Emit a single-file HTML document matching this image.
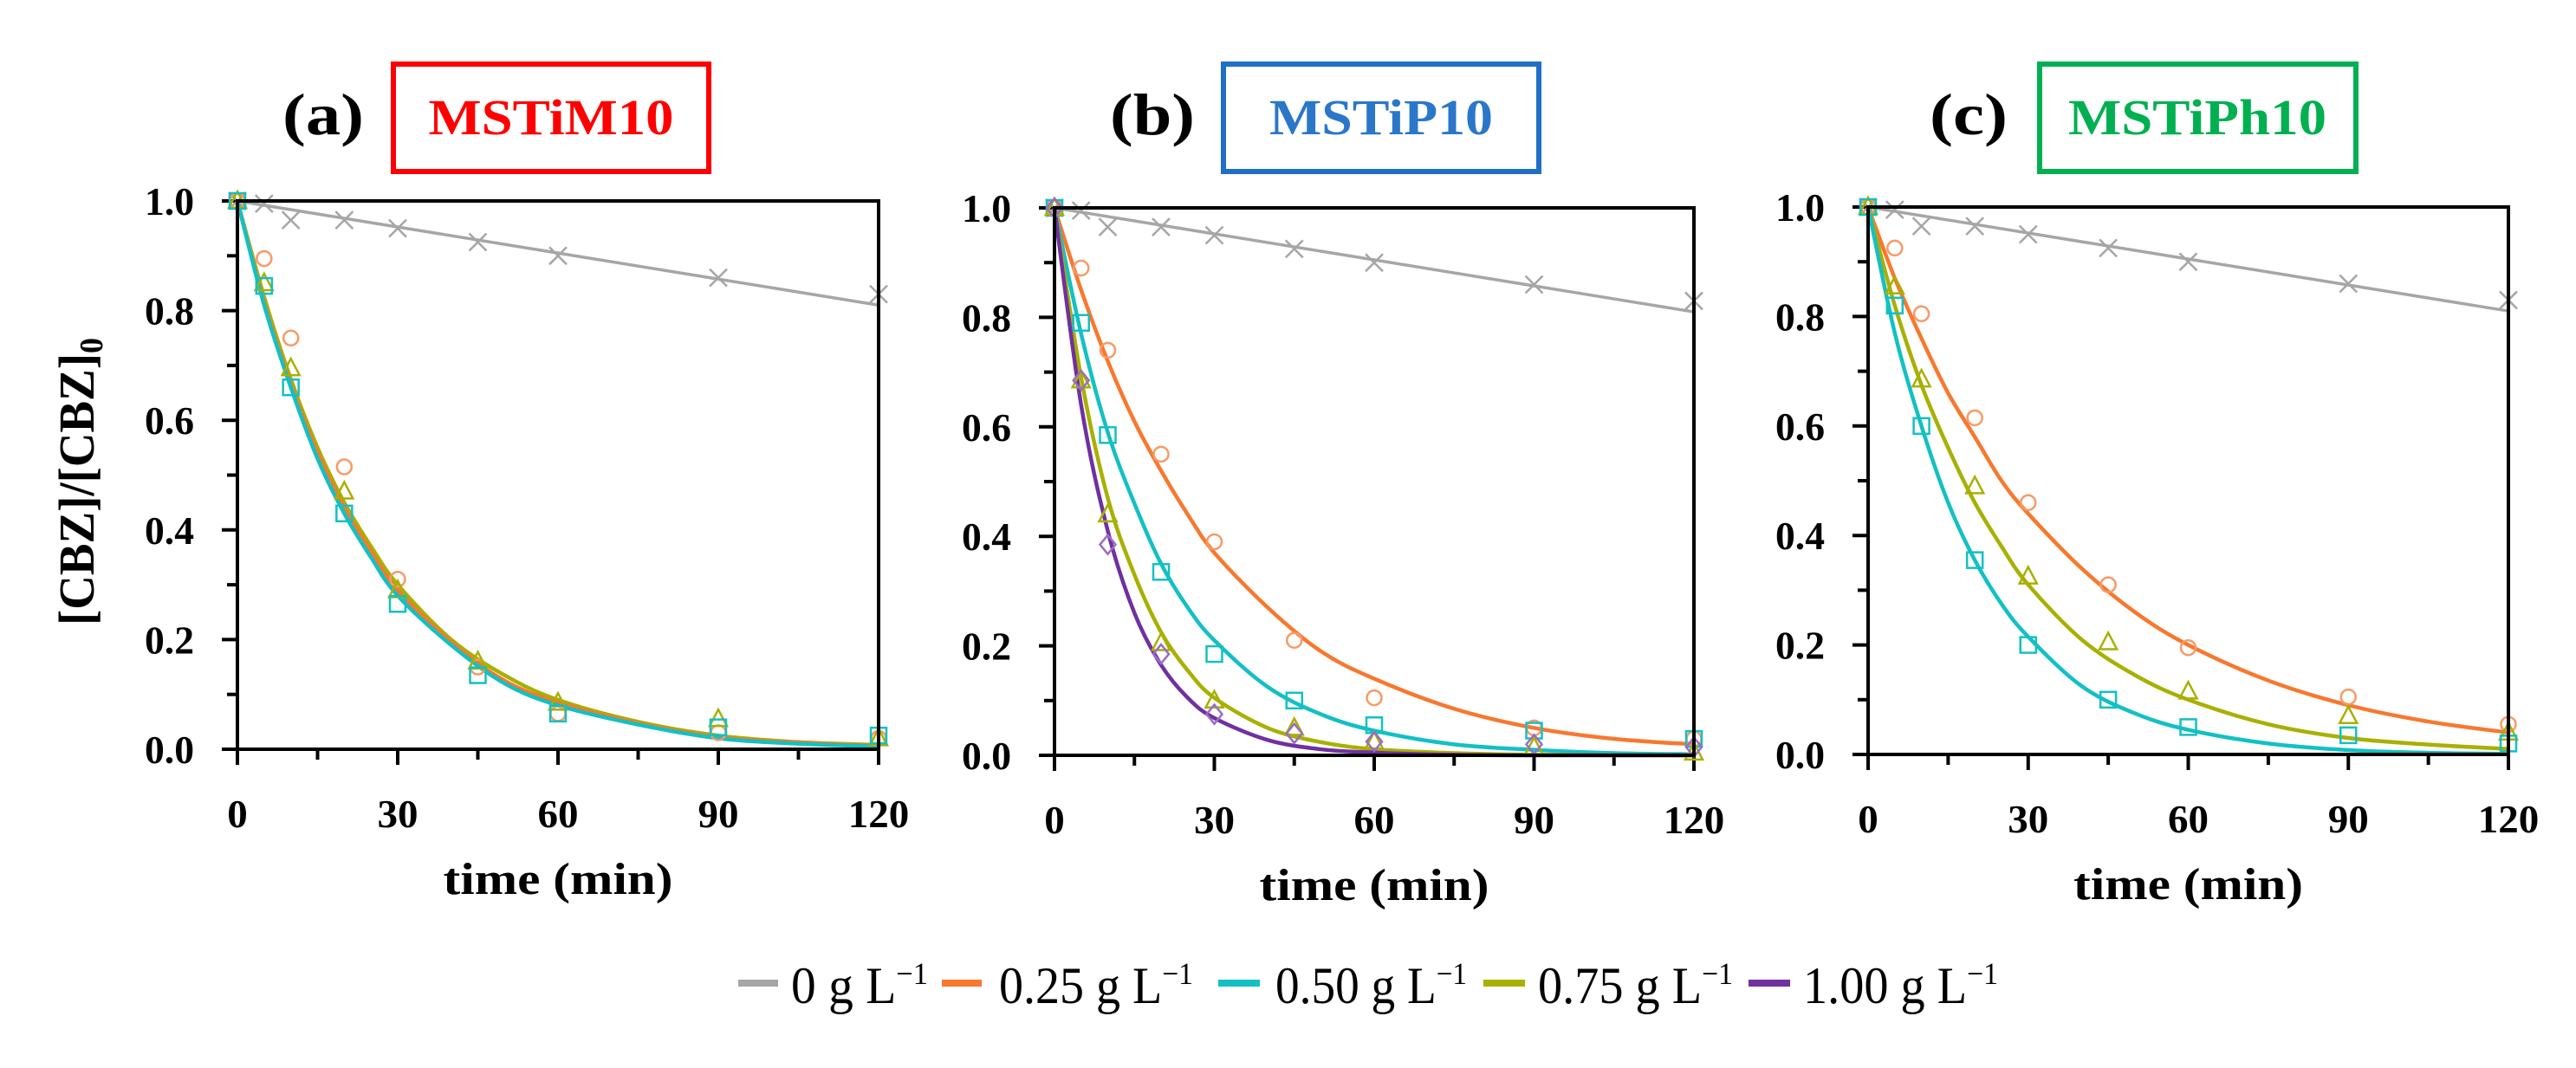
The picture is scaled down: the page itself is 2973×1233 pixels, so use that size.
<!DOCTYPE html>
<html><head><meta charset="utf-8">
<style>
html,body{margin:0;padding:0;background:#fff;}
svg{display:block;}
text{font-family:"Liberation Serif",serif;}
</style></head>
<body>
<svg id="fig" width="2973" height="1233" viewBox="0 0 2973 1233" xmlns="http://www.w3.org/2000/svg">
  <text transform="translate(108,556) rotate(-90)" text-anchor="middle" font-size="58" font-weight="bold" textLength="332" lengthAdjust="spacingAndGlyphs">[CBZ]/[CBZ]<tspan font-size="38" dy="10">0</tspan></text>

  <text x="373" y="155" text-anchor="middle" font-size="68" font-weight="bold" textLength="94" lengthAdjust="spacingAndGlyphs">(a)</text>
  <rect x="454" y="74" width="364" height="124" fill="none" stroke="#ff0000" stroke-width="6"/>
  <text x="636" y="155" text-anchor="middle" font-size="58" font-weight="bold" fill="#ff0000" textLength="283" lengthAdjust="spacingAndGlyphs">MSTiM10</text>

  <text x="1330" y="155" text-anchor="middle" font-size="68" font-weight="bold" textLength="98" lengthAdjust="spacingAndGlyphs">(b)</text>
  <rect x="1412" y="74" width="364" height="124" fill="none" stroke="#1f6fc8" stroke-width="6"/>
  <text x="1594" y="155" text-anchor="middle" font-size="58" font-weight="bold" fill="#2a77c9" textLength="258" lengthAdjust="spacingAndGlyphs">MSTiP10</text>

  <text x="2272" y="155" text-anchor="middle" font-size="68" font-weight="bold" textLength="90" lengthAdjust="spacingAndGlyphs">(c)</text>
  <rect x="2354" y="74" width="365" height="124" fill="none" stroke="#00b050" stroke-width="6"/>
  <text x="2536" y="155" text-anchor="middle" font-size="58" font-weight="bold" fill="#00b050" textLength="298" lengthAdjust="spacingAndGlyphs">MSTiPh10</text>

  <g id="panels"></g>

  <g>
    <g>
      <line x1="852" y1="1135" x2="898" y2="1135" stroke="#a6a6a6" stroke-width="8"/>
      <text x="913" y="1158" font-size="60" textLength="158" lengthAdjust="spacingAndGlyphs">0 g L<tspan font-size="36" dy="-22">−1</tspan></text>
    </g>
    <g>
      <line x1="1087" y1="1135" x2="1133" y2="1135" stroke="#f7782e" stroke-width="8"/>
      <text x="1153" y="1158" font-size="60" textLength="224" lengthAdjust="spacingAndGlyphs">0.25 g L<tspan font-size="36" dy="-22">−1</tspan></text>
    </g>
    <g>
      <line x1="1406" y1="1135" x2="1454" y2="1135" stroke="#13c0c4" stroke-width="8"/>
      <text x="1472" y="1158" font-size="60" textLength="221" lengthAdjust="spacingAndGlyphs">0.50 g L<tspan font-size="36" dy="-22">−1</tspan></text>
    </g>
    <g>
      <line x1="1712" y1="1135" x2="1760" y2="1135" stroke="#a8b000" stroke-width="8"/>
      <text x="1775" y="1158" font-size="60" textLength="225" lengthAdjust="spacingAndGlyphs">0.75 g L<tspan font-size="36" dy="-22">−1</tspan></text>
    </g>
    <g>
      <line x1="2018" y1="1135" x2="2066" y2="1135" stroke="#7030a0" stroke-width="8"/>
      <text x="2081" y="1158" font-size="60" textLength="225" lengthAdjust="spacingAndGlyphs">1.00 g L<tspan font-size="36" dy="-22">−1</tspan></text>
    </g>
  </g>
</svg>
<script>
// ---- data ----
const markerTimes = [0, 5, 10, 20, 30, 45, 60, 90, 120];
const curveTimes = [0, 5, 10, 15, 20, 25, 30, 40, 50, 60, 75, 90, 105, 120];
const xTicks = [0, 30, 60, 90, 120];
const yTicks = [0, 0.2, 0.4, 0.6, 0.8, 1.0];
const yTickLabels = ["0.0", "0.2", "0.4", "0.6", "0.8", "1.0"];

// blank (0 g/L) - same in all panels
const blankPts = [1.0, 0.995, 0.965, 0.965, 0.95, 0.925, 0.90, 0.86, 0.83];
const blankLineTimes = [0, 120];
const blankLineVals = [1.0, 0.81];

// panel a (MSTiM10)
const aOrangePts = [1, 0.895, 0.75, 0.515, 0.31, 0.15, 0.065, 0.03, 0.02];
const aCyanPts = [1, 0.845, 0.66, 0.43, 0.265, 0.135, 0.065, 0.04, 0.025];
const aOlivePts = [1, 0.85, 0.695, 0.47, 0.29, 0.16, 0.085, 0.055, 0.02];
const aOrangeFit = [1, 0.815, 0.665, 0.54, 0.44, 0.36, 0.29, 0.195, 0.125, 0.085, 0.047, 0.022, 0.012, 0.006];
const aCyanFit = [1, 0.81, 0.66, 0.53, 0.43, 0.35, 0.28, 0.19, 0.12, 0.08, 0.045, 0.02, 0.01, 0.005];
const aOliveFit = [1, 0.825, 0.675, 0.55, 0.45, 0.37, 0.30, 0.20, 0.135, 0.09, 0.05, 0.025, 0.013, 0.008];

// panel b (MSTiP10)
const bOrangePts = [1, 0.89, 0.74, 0.55, 0.39, 0.21, 0.105, 0.05, 0.03];
const bCyanPts = [1, 0.79, 0.585, 0.335, 0.185, 0.10, 0.055, 0.045, 0.03];
const bOlivePts = [1, 0.685, 0.44, 0.205, 0.10, 0.05, 0.025, 0.015, 0.005];
const bPurplePts = [1, 0.685, 0.385, 0.185, 0.075, 0.04, 0.025, 0.02, 0.015];
const bOrangeFit = [1, 0.85, 0.72, 0.61, 0.52, 0.44, 0.37, 0.27, 0.19, 0.14, 0.085, 0.05, 0.03, 0.02];
const bCyanFit = [1, 0.77, 0.59, 0.46, 0.35, 0.27, 0.21, 0.125, 0.075, 0.045, 0.02, 0.01, 0.004, 0.002];
const bOliveFit = [1, 0.69, 0.47, 0.33, 0.225, 0.155, 0.105, 0.05, 0.024, 0.011, 0.004, 0.001, 0, 0];
const bPurpleFit = [1, 0.64, 0.41, 0.26, 0.165, 0.105, 0.068, 0.028, 0.011, 0.005, 0.001, 0, 0, 0];

// panel c (MSTiPh10)
const cOrangePts = [1, 0.925, 0.805, 0.615, 0.46, 0.31, 0.195, 0.105, 0.055];
const cOlivePts = [1, 0.855, 0.685, 0.49, 0.325, 0.205, 0.115, 0.07, 0.04];
const cCyanPts = [1, 0.82, 0.60, 0.355, 0.20, 0.10, 0.05, 0.035, 0.02];
const cOrangeFit = [1, 0.87, 0.76, 0.66, 0.58, 0.50, 0.44, 0.34, 0.26, 0.20, 0.135, 0.09, 0.06, 0.04];
const cOliveFit = [1, 0.82, 0.675, 0.56, 0.46, 0.38, 0.31, 0.21, 0.145, 0.10, 0.055, 0.03, 0.018, 0.01];
const cCyanFit = [1, 0.77, 0.60, 0.46, 0.355, 0.275, 0.215, 0.125, 0.075, 0.045, 0.02, 0.008, 0.003, 0.001];

const COL = {gray:"#a6a6a6", orange:"#f7782e", cyan:"#13c0c4", olive:"#a8b000", purple:"#7030a0"};
const MCOL = {gray:"#a6a6a6", orange:"#f79a66", cyan:"#13c0c4", olive:"#a8b000", purple:"#9b6cc4"};

const panels = [
  {id:"a", x0:274, x1:1014, yT:232, yB:865,
   fits:[["olive",aOliveFit],["orange",aOrangeFit],["cyan",aCyanFit]],
   pts:[["orange","circle",aOrangePts],["olive","triangle",aOlivePts],["cyan","square",aCyanPts]]},
  {id:"b", x0:1217, x1:1955, yT:240, yB:872,
   fits:[["orange",bOrangeFit],["cyan",bCyanFit],["olive",bOliveFit],["purple",bPurpleFit]],
   pts:[["orange","circle",bOrangePts],["cyan","square",bCyanPts],["olive","triangle",bOlivePts],["purple","diamond",bPurplePts]]},
  {id:"c", x0:2156, x1:2895, yT:239, yB:871,
   fits:[["orange",cOrangeFit],["olive",cOliveFit],["cyan",cCyanFit]],
   pts:[["orange","circle",cOrangePts],["olive","triangle",cOlivePts],["cyan","square",cCyanPts]]}
];

const NS = "http://www.w3.org/2000/svg";
const root = document.getElementById("panels");
function mk(tag, attrs, parent){
  const e = document.createElementNS(NS, tag);
  for (const k in attrs) e.setAttribute(k, attrs[k]);
  parent.appendChild(e);
  return e;
}
function smoothPath(pts){
  let d = "M" + pts[0][0] + "," + pts[0][1];
  for (let i = 0; i < pts.length - 1; i++){
    const p0 = pts[i-1] || pts[i], p1 = pts[i], p2 = pts[i+1], p3 = pts[i+2] || p2;
    const c1x = p1[0] + (p2[0]-p0[0])/6, c1y = p1[1] + (p2[1]-p0[1])/6;
    const c2x = p2[0] - (p3[0]-p1[0])/6, c2y = p2[1] - (p3[1]-p1[1])/6;
    d += " C" + c1x + "," + c1y + " " + c2x + "," + c2y + " " + p2[0] + "," + p2[1];
  }
  return d;
}

panels.forEach(p => {
  const X = t => p.x0 + (p.x1 - p.x0) * t / 120;
  const Y = v => p.yB - (p.yB - p.yT) * v;
  const g = mk("g", {}, root);
  
  

  for (let v = 0; v <= 1.0001; v += 0.1){
    const major = Math.round(v*10) % 2 === 0;
    const tk = mk("line", {x1:p.x0 - (major?18:12), x2:p.x0, y1:Y(v), y2:Y(v), stroke:"#000", "stroke-width":4}, g);
    
    
  }
  for (let t = 0; t <= 120; t += 15){
    const major = t % 30 === 0;
    const tk = mk("line", {x1:X(t), x2:X(t), y1:p.yB, y2:p.yB + (major?18:12), stroke:"#000", "stroke-width":4}, g);
    
    
  }
  yTicks.forEach((v, i) => {
    const tx = mk("text", {x:p.x0 - 50, y:Y(v) + 16, "text-anchor":"end", "font-size":46, "font-weight":"bold", textLength:57, lengthAdjust:"spacingAndGlyphs"}, g);
    tx.textContent = yTickLabels[i];
    
    
  });
  xTicks.forEach(t => {
    const s = String(t);
    const tx = mk("text", {x:X(t), y:p.yB + 90, "text-anchor":"middle", "font-size":46, "font-weight":"bold", textLength:s.length*23.5, lengthAdjust:"spacingAndGlyphs"}, g);
    tx.textContent = s;
    
    
  });
  const xt = mk("text", {x:(p.x0+p.x1)/2, y:p.yB + 167, "text-anchor":"middle", "font-size":52, "font-weight":"bold", textLength:265, lengthAdjust:"spacingAndGlyphs"}, g);
  xt.textContent = "time (min)";
  
  

  const bl = mk("line", {x1:X(blankLineTimes[0]), y1:Y(blankLineVals[0]), x2:X(blankLineTimes[1]), y2:Y(blankLineVals[1]), stroke:COL.gray, "stroke-width":3.5}, g);
  
  
  markerTimes.forEach((t, i) => {
    const cx = X(t), cy = Y(blankPts[i]), s = 10;
    const m = mk("path", {d:`M${cx-s},${cy-s}L${cx+s},${cy+s}M${cx-s},${cy+s}L${cx+s},${cy-s}`, stroke:MCOL.gray, "stroke-width":2.5, fill:"none"}, g);
    
    
  });

  p.fits.forEach(([c, vals]) => {
    const pts = curveTimes.map((t, i) => [X(t), Y(vals[i])]);
    const path = mk("path", {d:smoothPath(pts), stroke:COL[c], "stroke-width":4.5, fill:"none"}, g);
    
    
  });

  p.pts.forEach(([c, shape, vals]) => {
    markerTimes.forEach((t, i) => {
      const cx = X(t), cy = Y(vals[i]);
      let m;
      if (shape === "circle") m = mk("circle", {cx:cx, cy:cy, r:8.5}, g);
      else if (shape === "square") m = mk("rect", {x:cx-9, y:cy-9, width:18, height:18}, g);
      else if (shape === "triangle") m = mk("path", {d:`M${cx},${cy-11}L${cx+10},${cy+8}L${cx-10},${cy+8}Z`}, g);
      else m = mk("path", {d:`M${cx},${cy-11}L${cx+9},${cy}L${cx},${cy+11}L${cx-9},${cy}Z`}, g);
      m.setAttribute("fill", "none");
      m.setAttribute("stroke", MCOL[c]);
      m.setAttribute("stroke-width", "2.5");
      
      
    });
  });

  const fr = mk("rect", {x:p.x0, y:p.yT, width:p.x1-p.x0, height:p.yB-p.yT, fill:"none", stroke:"#000", "stroke-width":4}, g);
  
  
});
</script>
</body></html>
